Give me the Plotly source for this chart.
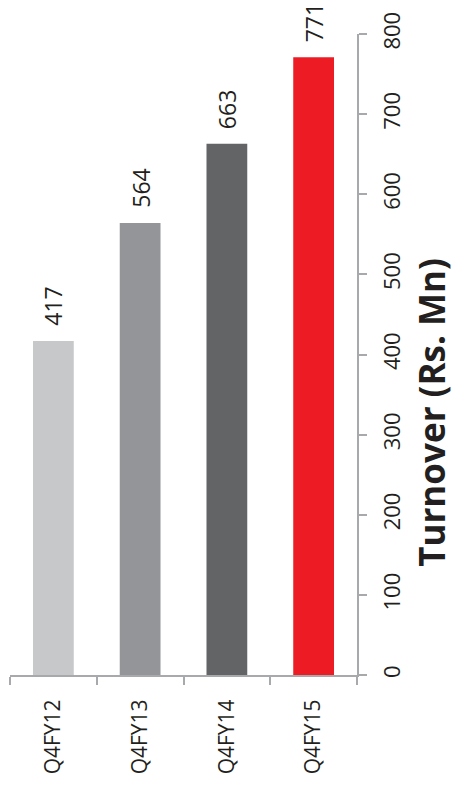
import plotly.graph_objects as go

categories = ["Q4FY12", "Q4FY13", "Q4FY14", "Q4FY15"]
turnover = [417, 564, 663, 771]
bar_colors = ["#C7C8CA", "#939598", "#636466", "#ED1C24"]
y_ticks = [0, 100, 200, 300, 400, 500, 600, 700, 800]
title_text = "Turnover (Rs. Mn)"

FONT = "Open Sans"
AXIS_GRAY = "#A7A9AC"
TEXT = "#231F20"

fig = go.Figure(
    go.Bar(
        x=categories,
        y=turnover,
        marker=dict(color=bar_colors, line=dict(width=0)),
        width=0.47,
        hoverinfo="x+y",
    )
)

annotations = [
    dict(
        x=c,
        y=v,
        xref="x",
        yref="y",
        text=str(v),
        textangle=-90,
        showarrow=False,
        xanchor="center",
        yanchor="bottom",
        yshift=13,
        font=dict(family=FONT, size=23, color=TEXT),
    )
    for c, v in zip(categories, turnover)
]
annotations.append(
    dict(
        text="<b>" + title_text + "</b>",
        x=1.215,
        y=0.41,
        xref="paper",
        yref="paper",
        xanchor="center",
        yanchor="middle",
        textangle=-90,
        showarrow=False,
        borderpad=0,
        font=dict(family=FONT, size=35, color=TEXT),
    )
)

fig.update_layout(
    width=456,
    height=796,
    margin=dict(l=10, r=99, t=34, b=121),
    paper_bgcolor="white",
    plot_bgcolor="white",
    showlegend=False,
    font=dict(family=FONT, color=TEXT),
    xaxis=dict(
        type="category",
        tickangle=-90,
        tickfont=dict(family=FONT, size=21, color=TEXT),
        showline=True,
        linecolor=AXIS_GRAY,
        linewidth=2,
        ticks="outside",
        tickson="boundaries",
        ticklen=8,
        tickcolor=AXIS_GRAY,
        tickwidth=2,
        showgrid=False,
        ticklabelstandoff=14,
    ),
    yaxis=dict(
        side="right",
        range=[0, 800],
        tickvals=y_ticks,
        tickangle=-90,
        tickfont=dict(family=FONT, size=22, color=TEXT),
        showline=True,
        linecolor=AXIS_GRAY,
        linewidth=2,
        ticks="outside",
        ticklen=8,
        tickcolor=AXIS_GRAY,
        tickwidth=2,
        showgrid=False,
        zeroline=False,
        ticklabelstandoff=7,
    ),
    annotations=annotations,
)

fig.write_html("out.html")
